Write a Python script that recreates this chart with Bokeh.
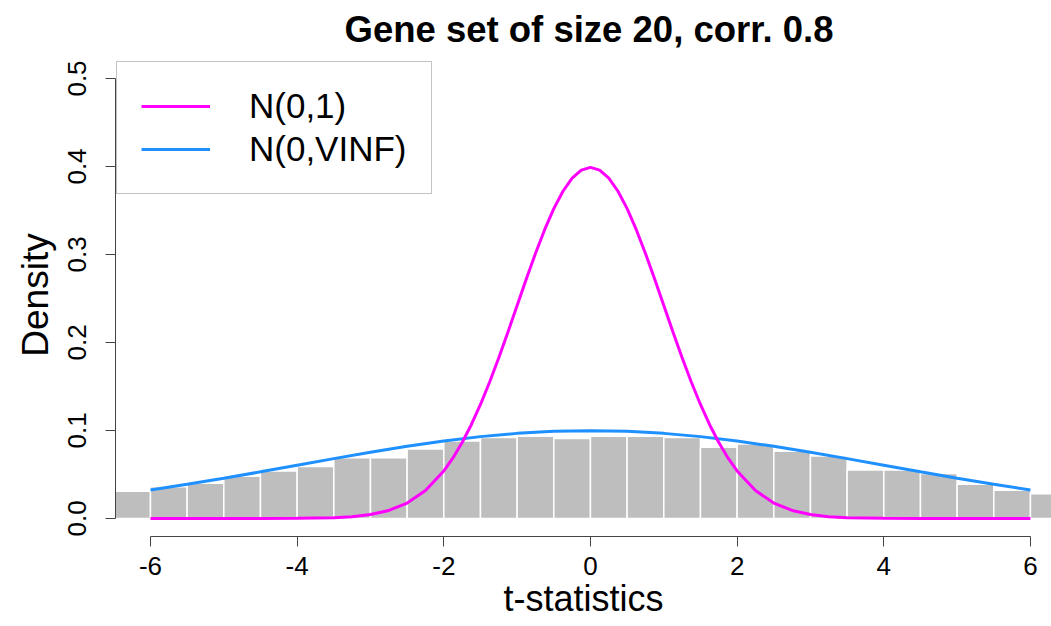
from bokeh.plotting import figure
from bokeh.models import Range1d, FixedTicker, PrintfTickFormatter, Legend, LegendItem
from bokeh.embed import file_html
from bokeh.resources import INLINE

# ---------------- data ----------------
title_text = "Gene set of size 20, corr. 0.8"
x_label = "t-statistics"
y_label = "Density"
x_ticks = [-6, -4, -2, 0, 2, 4, 6]
y_ticks = [0.0, 0.1, 0.2, 0.3, 0.4, 0.5]

# histogram of t-statistics (bin edges and densities)
bin_edges = [-6.5, -6.0, -5.5, -5.0, -4.5, -4.0, -3.5, -3.0, -2.5, -2.0, -1.5, -1.0, -0.5,
             0.0, 0.5, 1.0, 1.5, 2.0, 2.5, 3.0, 3.5, 4.0, 4.5, 5.0, 5.5, 6.0, 6.5]
hist_density = [0.031, 0.036, 0.040, 0.048, 0.054, 0.059, 0.069, 0.069, 0.079, 0.088,
                0.092, 0.0935, 0.091, 0.0935, 0.0935, 0.092, 0.081, 0.0845, 0.0765,
                0.071, 0.055, 0.055, 0.051, 0.039, 0.032, 0.028]

# N(0,1) curve
norm_x = [-6.0, -5.0, -4.5, -4.0, -3.5, -3.25, -3.0, -2.75, -2.5, -2.25, -2.0,
          -1.875, -1.75, -1.625, -1.5, -1.375, -1.25, -1.125, -1.0, -0.875, -0.75,
          -0.625, -0.5, -0.375, -0.25, -0.125, 0.0, 0.125, 0.25, 0.375, 0.5, 0.625,
          0.75, 0.875, 1.0, 1.125, 1.25, 1.375, 1.5, 1.625, 1.75, 1.875, 2.0, 2.25,
          2.5, 2.75, 3.0, 3.25, 3.5, 4.0, 4.5, 5.0, 6.0]
norm_y = [0.0, 0.0, 0.00002, 0.00013, 0.00087, 0.00203, 0.00443, 0.00909, 0.01753,
          0.03174, 0.05399, 0.06879, 0.08628, 0.10653, 0.12952, 0.15502, 0.18265,
          0.21188, 0.24197, 0.27205, 0.30114, 0.32816, 0.35207, 0.37186, 0.38667,
          0.39584, 0.39894, 0.39584, 0.38667, 0.37186, 0.35207, 0.32816, 0.30114,
          0.27205, 0.24197, 0.21188, 0.18265, 0.15502, 0.12952, 0.10653, 0.08628,
          0.06879, 0.05399, 0.03174, 0.01753, 0.00909, 0.00443, 0.00203, 0.00087,
          0.00013, 0.00002, 0.0, 0.0]

# N(0,VINF) curve
vinf_x = [-6.0, -5.5, -5.0, -4.5, -4.0, -3.5, -3.0, -2.5, -2.0, -1.5, -1.0, -0.5, 0.0,
          0.5, 1.0, 1.5, 2.0, 2.5, 3.0, 3.5, 4.0, 4.5, 5.0, 5.5, 6.0]
vinf_y = [0.0324, 0.0388, 0.0457, 0.0530, 0.0605, 0.0680, 0.0753, 0.0820, 0.0880,
          0.0930, 0.0967, 0.0990, 0.0997, 0.0990, 0.0967, 0.0930, 0.0880, 0.0820,
          0.0753, 0.0680, 0.0605, 0.0530, 0.0457, 0.0388, 0.0324]

legend_labels = ["N(0,1)", "N(0,VINF)"]
FONT = "Liberation Sans"

# ---------------- figure ----------------
p = figure(width=1051, height=626, output_backend="svg", toolbar_location=None,
           x_range=Range1d(-6.477, 6.287), y_range=Range1d(-0.0205, 0.5284),
           min_border_left=115, min_border_right=0, min_border_top=53,
           min_border_bottom=90)
p.outline_line_color = None
p.xgrid.visible = False
p.ygrid.visible = False
p.background_fill_color = "white"
p.border_fill_color = "white"

p.quad(left=bin_edges[:-1], right=bin_edges[1:], bottom=0, top=hist_density,
       fill_color="#BEBEBE", line_color="white", line_width=1.5)

r_vinf = p.line(vinf_x, vinf_y, line_color="#1E90FF", line_width=3)
r_norm = p.line(norm_x, norm_y, line_color="#FF00FF", line_width=3)

legend = Legend(items=[LegendItem(label=legend_labels[0], renderers=[r_norm]),
                       LegendItem(label=legend_labels[1], renderers=[r_vinf])],
                location=(1, 342), margin=0, padding=24, spacing=3,
                glyph_width=69, glyph_height=40, label_height=40, label_standoff=39,
                label_text_font=FONT, label_text_font_size="35px",
                label_text_color="black", border_line_color="#888888",
                border_line_width=1, background_fill_color="white",
                background_fill_alpha=1.0)
p.add_layout(legend)

# title
p.title.text = title_text
p.title.align = "left"
p.title.offset = 229
p.title.text_font = FONT
p.title.text_font_size = "36.5px"
p.title.text_font_style = "bold"
p.title.text_color = "black"
p.title.standoff = 8

# axes
for ax in (p.xaxis[0], p.yaxis[0]):
    ax.axis_line_color = "#444444"
    ax.major_tick_line_color = "#444444"
    ax.minor_tick_line_color = None
    ax.major_tick_in = 0
    ax.major_tick_out = 10
    ax.major_label_text_font = FONT
    ax.major_label_text_font_size = "26px"
    ax.major_label_text_color = "black"
    ax.axis_label_text_font = FONT
    ax.axis_label_text_font_style = "normal"
    ax.axis_label_text_color = "black"

p.xaxis.ticker = FixedTicker(ticks=x_ticks)
p.xaxis.formatter = PrintfTickFormatter(format="%d")
p.xaxis.bounds = (x_ticks[0], x_ticks[-1])
p.xaxis.major_label_standoff = 10
p.xaxis.axis_label = x_label
p.xaxis.axis_label_text_font_size = "36px"
p.xaxis.axis_label_standoff = 0

p.yaxis.ticker = FixedTicker(ticks=y_ticks)
p.yaxis.formatter = PrintfTickFormatter(format="%.1f")
p.yaxis.bounds = (y_ticks[0], y_ticks[-1])
p.yaxis.major_label_orientation = "vertical"
p.yaxis.axis_label = y_label
p.yaxis.axis_label_text_font_size = "37px"
p.yaxis.major_label_standoff = 19
p.yaxis.axis_label_standoff = 10

open("out.html", "w").write(file_html(p, INLINE))
